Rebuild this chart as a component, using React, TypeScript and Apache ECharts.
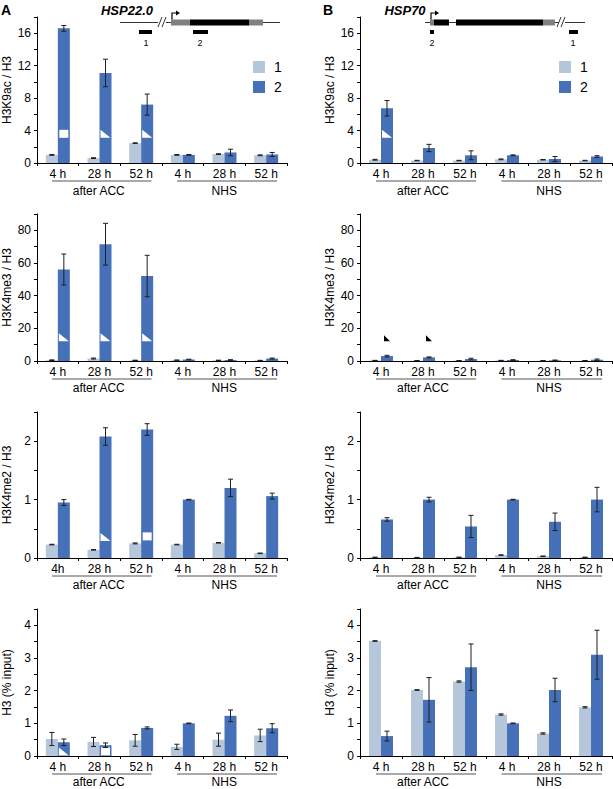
import React, { useEffect, useRef } from "react";
import * as echarts from "echarts";

// ---------- data ----------
const cats = ["4 h", "28 h", "52 h", "4 h", "28 h", "52 h"];
const catsA3 = ["4h", "28 h", "52 h", "4 h", "28 h", "52 h"];
const groupLabels = ["after ACC", "NHS"];
const legendNames = ["1", "2"];

// A: HSP22.0
const a1Light = [1.0, 0.6, 2.45, 1.0, 1.1, 0.95];
const a1LightErr = [0.05, 0.05, 0.04, 0.05, 0.04, 0.05];
const a1Dark = [16.6, 11.1, 7.2, 1.0, 1.3, 1.05];
const a1DarkErr = [0.35, 1.7, 1.3, 0.05, 0.4, 0.25];

const a2Light = [0.5, 1.5, 0.4, 0.5, 0.4, 0.3];
const a2LightErr = [0.2, 0.3, 0.1, 0.1, 0.1, 0.1];
const a2Dark = [56, 71.5, 52, 0.9, 0.6, 1.5];
const a2DarkErr = [9.5, 12.8, 12.7, 0.2, 0.2, 0.3];

const a3Light = [0.23, 0.14, 0.25, 0.23, 0.26, 0.08];
const a3LightErr = [0.005, 0.005, 0.008, 0.005, 0.005, 0.005];
const a3Dark = [0.95, 2.08, 2.2, 1.0, 1.2, 1.06];
const a3DarkErr = [0.05, 0.15, 0.1, 0.005, 0.15, 0.05];

const a4Light = [0.52, 0.43, 0.48, 0.28, 0.5, 0.63];
const a4LightErr = [0.2, 0.14, 0.18, 0.08, 0.2, 0.19];
const a4Dark = [0.42, 0.33, 0.86, 1.0, 1.23, 0.85];
const a4DarkErr = [0.1, 0.07, 0.03, 0.01, 0.18, 0.14];

// B: HSP70
const b1Light = [0.4, 0.3, 0.3, 0.45, 0.4, 0.3];
const b1LightErr = [0.05, 0.03, 0.03, 0.05, 0.03, 0.03];
const b1Dark = [6.75, 1.85, 0.95, 0.95, 0.5, 0.8];
const b1DarkErr = [0.95, 0.45, 0.55, 0.05, 0.3, 0.1];

const b2Light = [0.3, 0.2, 0.2, 0.3, 0.2, 0.2];
const b2LightErr = [0.1, 0.1, 0.1, 0.1, 0.1, 0.1];
const b2Dark = [3.0, 2.2, 1.2, 0.6, 0.4, 0.8];
const b2DarkErr = [0.5, 0.3, 0.5, 0.2, 0.2, 0.4];

const b3Light = [0.01, 0.005, 0.01, 0.05, 0.03, 0.01];
const b3LightErr = [0.005, 0.005, 0.005, 0.005, 0.005, 0.005];
const b3Dark = [0.66, 1.0, 0.54, 1.0, 0.62, 1.0];
const b3DarkErr = [0.03, 0.04, 0.19, 0.005, 0.15, 0.21];

const b4Light = [3.52, 2.02, 2.28, 1.27, 0.69, 1.49];
const b4LightErr = [0.01, 0.01, 0.02, 0.02, 0.02, 0.02];
const b4Dark = [0.61, 1.72, 2.72, 1.0, 2.02, 3.1];
const b4DarkErr = [0.15, 0.68, 0.71, 0.01, 0.36, 0.75];

// annotation marks: [category index, value]
const a1Squares = [[0, 3.6]];
const a1Triangles = [[1, 3.6], [2, 3.6]];
const a2Triangles = [[0, 14.5], [1, 14.5], [2, 14.5]];
const a3Squares = [[2, 0.37]];
const a3Triangles = [[1, 0.36]];
const a4Squares = [[1, 0.14]];
const a4Triangles = [[0, 0.14]];
const b1Triangles = [[0, 3.6]];
const b2BlackTriangles = [[0, 14], [1, 14]];

// ---------- styling ----------
const FONT = "Liberation Sans, Arial, sans-serif";
const LIGHT = "#B7C7DB";
const DARK = "#4671B9";
const ERR = "#1e1e1e";
const TRI = "path://M0,0L0,10L10,10Z";

const colLeft = [36, 360];
const colWidth = [251, 252];
const rowTop = [17, 214, 412, 609];
const rowHeight = [146, 147, 146, 147];
const groupTextGap = [28, 27, 27, 26];

const panels = [
  { col: 0, row: 0, light: a1Light, lightErr: a1LightErr, dark: a1Dark, darkErr: a1DarkErr, max: 18, interval: 2, step: 4, name: "H3K9ac / H3", cats, squares: a1Squares, tris: a1Triangles, blackTris: [] },
  { col: 0, row: 1, light: a2Light, lightErr: a2LightErr, dark: a2Dark, darkErr: a2DarkErr, max: 90, interval: 10, step: 20, name: "H3K4me3 / H3", cats, squares: [], tris: a2Triangles, blackTris: [] },
  { col: 0, row: 2, light: a3Light, lightErr: a3LightErr, dark: a3Dark, darkErr: a3DarkErr, max: 2.5, interval: 0.5, step: 1, name: "H3K4me2 / H3", cats: catsA3, squares: a3Squares, tris: a3Triangles, blackTris: [] },
  { col: 0, row: 3, light: a4Light, lightErr: a4LightErr, dark: a4Dark, darkErr: a4DarkErr, max: 4.5, interval: 0.5, step: 1, name: "H3 (% input)", cats, squares: a4Squares, tris: a4Triangles, blackTris: [] },
  { col: 1, row: 0, light: b1Light, lightErr: b1LightErr, dark: b1Dark, darkErr: b1DarkErr, max: 18, interval: 2, step: 4, name: "H3K9ac / H3", cats, squares: [], tris: b1Triangles, blackTris: [] },
  { col: 1, row: 1, light: b2Light, lightErr: b2LightErr, dark: b2Dark, darkErr: b2DarkErr, max: 90, interval: 10, step: 20, name: "H3K4me3 / H3", cats, squares: [], tris: [], blackTris: b2BlackTriangles },
  { col: 1, row: 2, light: b3Light, lightErr: b3LightErr, dark: b3Dark, darkErr: b3DarkErr, max: 2.5, interval: 0.5, step: 1, name: "H3K4me2 / H3", cats, squares: [], tris: [], blackTris: [] },
  { col: 1, row: 3, light: b4Light, lightErr: b4LightErr, dark: b4Dark, darkErr: b4DarkErr, max: 4.5, interval: 0.5, step: 1, name: "H3 (% input)", cats, squares: [], tris: [], blackTris: [] },
];

function errRenderer(off: number) {
  return (params: any, api: any) => {
    const i = api.value(0);
    const x = api.coord([i, 0])[0] + off;
    const yHi = api.coord([i, api.value(2)])[1];
    const yLo = api.coord([i, api.value(1)])[1];
    const cw = 2.5;
    const st = { stroke: ERR, lineWidth: 1 };
    return {
      type: "group",
      children: [
        { type: "line", shape: { x1: x, y1: yHi, x2: x, y2: yLo }, style: st },
        { type: "line", shape: { x1: x - cw, y1: yHi, x2: x + cw, y2: yHi }, style: st },
        { type: "line", shape: { x1: x - cw, y1: yLo, x2: x + cw, y2: yLo }, style: st },
      ],
    };
  };
}

function buildOption() {
  const grid: any[] = [];
  const xAxis: any[] = [];
  const yAxis: any[] = [];
  const series: any[] = [];
  const graphic: any[] = [];

  panels.forEach((p, i) => {
    const left = colLeft[p.col];
    const width = colWidth[p.col];
    const top = rowTop[p.row];
    const height = rowHeight[p.row];
    grid.push({ left, top, width, height, containLabel: false });
    xAxis.push({
      type: "category",
      gridIndex: i,
      data: p.cats,
      axisLine: { lineStyle: { color: "#000", width: 1 } },
      axisTick: { show: true, length: 3, alignWithLabel: false, lineStyle: { color: "#000" } },
      axisLabel: { interval: 0, fontSize: 12, color: "#000", margin: 5, fontFamily: FONT },
    });
    const step = p.step;
    yAxis.push({
      type: "value",
      gridIndex: i,
      min: 0,
      max: p.max,
      interval: p.interval,
      axisLine: { show: true, lineStyle: { color: "#000", width: 1 } },
      axisTick: { show: true, length: 3, lineStyle: { color: "#000" } },
      splitLine: { show: false },
      axisLabel: {
        fontSize: 12,
        color: "#000",
        margin: 6,
        fontFamily: FONT,
        formatter: (v: number) => (Math.abs(v / step - Math.round(v / step)) < 1e-6 ? String(v) : ""),
      },
      name: p.name,
      nameLocation: "middle",
      nameGap: 24,
      nameTextStyle: { fontSize: 12, color: "#000", fontFamily: FONT },
    });
    series.push({
      name: "1",
      type: "bar",
      xAxisIndex: i,
      yAxisIndex: i,
      data: p.light,
      barWidth: 12,
      barGap: "0%",
      itemStyle: { color: LIGHT },
    });
    series.push({
      name: "2",
      type: "bar",
      xAxisIndex: i,
      yAxisIndex: i,
      data: p.dark,
      barWidth: 12,
      barGap: "0%",
      itemStyle: { color: DARK },
    });
    series.push({
      name: "err1-" + i,
      type: "custom",
      xAxisIndex: i,
      yAxisIndex: i,
      data: p.light.map((v, k) => [k, v - p.lightErr[k], v + p.lightErr[k]]),
      encode: { x: 0, y: [1, 2] },
      renderItem: errRenderer(-6),
      z: 10,
      silent: true,
    });
    series.push({
      name: "err2-" + i,
      type: "custom",
      xAxisIndex: i,
      yAxisIndex: i,
      data: p.dark.map((v, k) => [k, v - p.darkErr[k], v + p.darkErr[k]]),
      encode: { x: 0, y: [1, 2] },
      renderItem: errRenderer(6),
      z: 10,
      silent: true,
    });
    if (p.squares.length) {
      series.push({
        name: "sq-" + i, type: "scatter", xAxisIndex: i, yAxisIndex: i,
        data: p.squares, symbol: "rect", symbolSize: [9, 8], symbolOffset: [6, 0],
        itemStyle: { color: "#fff", opacity: 1 }, z: 5, silent: true,
      });
    }
    if (p.tris.length) {
      series.push({
        name: "tri-" + i, type: "scatter", xAxisIndex: i, yAxisIndex: i,
        data: p.tris, symbol: TRI, symbolSize: [10, 8], symbolOffset: [6, 0],
        itemStyle: { color: "#fff", opacity: 1 }, z: 5, silent: true,
      });
    }
    if (p.blackTris.length) {
      series.push({
        name: "btri-" + i, type: "scatter", xAxisIndex: i, yAxisIndex: i,
        data: p.blackTris, symbol: TRI, symbolSize: [6, 6], symbolOffset: [6, 0],
        itemStyle: { color: "#000", opacity: 1 }, z: 5, silent: true,
      });
    }

    // group underlines and labels
    const cw = width / 6;
    const axisY = top + height;
    const ty = axisY + groupTextGap[p.row];
    const lineStyle = { stroke: "#555", lineWidth: 1 };
    graphic.push(
      { type: "line", shape: { x1: left + 16, y1: axisY + 18, x2: left + 3 * cw - 10, y2: axisY + 18 }, style: lineStyle, silent: true },
      { type: "line", shape: { x1: left + 3 * cw + 15.5, y1: axisY + 18, x2: left + 6 * cw - 10, y2: axisY + 18 }, style: lineStyle, silent: true },
      { type: "text", x: left + 1.5 * cw, y: ty, style: { text: groupLabels[0], fill: "#000", font: `12px ${FONT}`, textAlign: "center", textVerticalAlign: "middle" }, silent: true },
      { type: "text", x: left + 4.5 * cw, y: ty, style: { text: groupLabels[1], fill: "#000", font: `12px ${FONT}`, textAlign: "center", textVerticalAlign: "middle" }, silent: true }
    );
  });

  // panel letters and gene titles
  const tStyle = (text: string, font: string, align = "left") => ({ text, fill: "#000", font, textAlign: align, textVerticalAlign: "middle" });
  graphic.push(
    { type: "text", x: 1, y: 10, style: tStyle("A", `bold 14px ${FONT}`) },
    { type: "text", x: 323, y: 10, style: tStyle("B", `bold 14px ${FONT}`) },
    { type: "text", x: 127, y: 10, style: tStyle("HSP22.0", `italic bold 13px ${FONT}`, "center") },
    { type: "text", x: 405, y: 10, style: tStyle("HSP70", `italic bold 13px ${FONT}`, "center") }
  );

  const thin = { stroke: "#333", lineWidth: 1 };
  const gy = 22.5;
  // HSP22.0 gene model
  graphic.push(
    { type: "line", shape: { x1: 120, y1: gy, x2: 158, y2: gy }, style: thin },
    { type: "line", shape: { x1: 158, y1: 27, x2: 162, y2: 17 }, style: thin },
    { type: "line", shape: { x1: 162, y1: 27, x2: 166, y2: 17 }, style: thin },
    { type: "line", shape: { x1: 166, y1: gy, x2: 280, y2: gy }, style: thin },
    { type: "rect", shape: { x: 171, y: 19.5, width: 19, height: 6 }, style: { fill: "#808080" } },
    { type: "rect", shape: { x: 190, y: 19.5, width: 59, height: 6 }, style: { fill: "#000" } },
    { type: "rect", shape: { x: 249, y: 19.5, width: 14, height: 6 }, style: { fill: "#808080" } },
    { type: "polyline", shape: { points: [[172, 19.5], [172, 13], [177, 13]] }, style: { stroke: "#000", lineWidth: 1.2, fill: null } },
    { type: "polygon", shape: { points: [[176, 10.5], [180, 13], [176, 15.5]] }, style: { fill: "#000" } },
    { type: "rect", shape: { x: 139, y: 30, width: 13, height: 4 }, style: { fill: "#000" } },
    { type: "rect", shape: { x: 193, y: 30, width: 15, height: 4 }, style: { fill: "#000" } },
    { type: "text", x: 146, y: 43, style: tStyle("1", `9px ${FONT}`, "center") },
    { type: "text", x: 200, y: 43, style: tStyle("2", `9px ${FONT}`, "center") }
  );
  // HSP70 gene model
  graphic.push(
    { type: "line", shape: { x1: 425, y1: gy, x2: 559, y2: gy }, style: thin },
    { type: "line", shape: { x1: 557, y1: 27, x2: 561, y2: 17 }, style: thin },
    { type: "line", shape: { x1: 561, y1: 27, x2: 565, y2: 17 }, style: thin },
    { type: "line", shape: { x1: 565, y1: gy, x2: 585, y2: gy }, style: thin },
    { type: "rect", shape: { x: 430, y: 19.5, width: 4, height: 6 }, style: { fill: "#808080" } },
    { type: "rect", shape: { x: 434, y: 19.5, width: 15, height: 6 }, style: { fill: "#000" } },
    { type: "rect", shape: { x: 456, y: 19.5, width: 87, height: 6 }, style: { fill: "#000" } },
    { type: "rect", shape: { x: 543, y: 19.5, width: 12, height: 6 }, style: { fill: "#808080" } },
    { type: "polyline", shape: { points: [[431, 19.5], [431, 13], [436, 13]] }, style: { stroke: "#000", lineWidth: 1.2, fill: null } },
    { type: "polygon", shape: { points: [[435, 10.5], [439, 13], [435, 15.5]] }, style: { fill: "#000" } },
    { type: "rect", shape: { x: 430, y: 30, width: 4, height: 4 }, style: { fill: "#000" } },
    { type: "rect", shape: { x: 569, y: 30, width: 9, height: 4 }, style: { fill: "#000" } },
    { type: "text", x: 432, y: 43, style: tStyle("2", `9px ${FONT}`, "center") },
    { type: "text", x: 573, y: 43, style: tStyle("1", `9px ${FONT}`, "center") }
  );

  const legendBase = {
    data: legendNames,
    orient: "vertical",
    itemWidth: 12,
    itemHeight: 12,
    itemGap: 6,
    icon: "rect",
    selectedMode: false,
    textStyle: { fontSize: 14, color: "#000", fontFamily: FONT, padding: [0, 0, 0, 4] },
    padding: 0,
  };

  return {
    animation: false,
    backgroundColor: "#fff",
    textStyle: { fontFamily: FONT },
    legend: [
      { ...legendBase, left: 253, top: 60 },
      { ...legendBase, left: 559, top: 60 },
    ],
    grid,
    xAxis,
    yAxis,
    series,
    graphic,
  };
}

export default function App() {
  const ref = useRef<HTMLDivElement>(null);
  useEffect(() => {
    if (!ref.current) return;
    const chart = echarts.init(ref.current, undefined, { renderer: "svg" });
    chart.setOption(buildOption() as any);
    return () => chart.dispose();
  }, []);
  return (
    <div
      ref={ref}
      style={{ position: "absolute", left: 0, top: 0, width: 613, height: 789, background: "#fff" }}
    />
  );
}
